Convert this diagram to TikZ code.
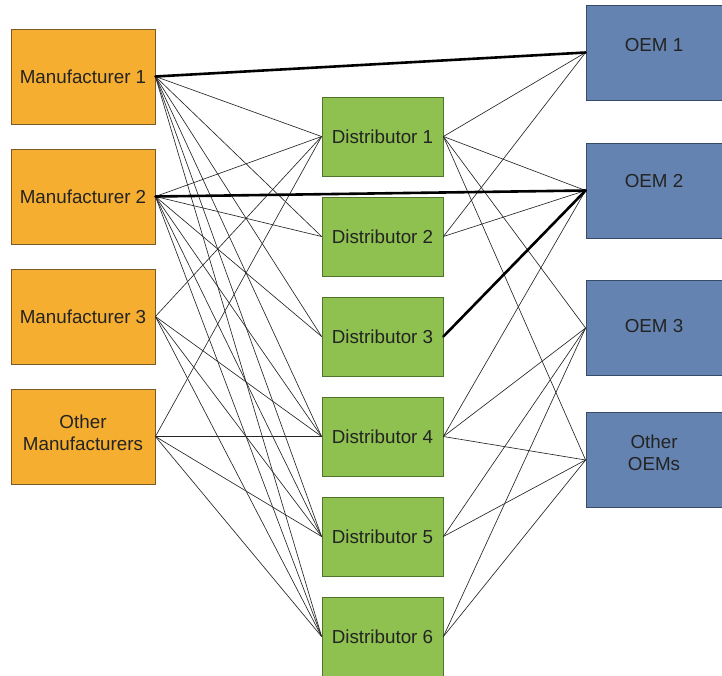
\documentclass[tikz,border=0pt]{standalone}
\usepackage{fontspec}
\setmainfont{Liberation Sans}
\definecolor{mfill}{RGB}{246,174,48}
\definecolor{mline}{RGB}{120,90,40}
\definecolor{dfill}{RGB}{142,193,80}
\definecolor{dline}{RGB}{80,115,45}
\definecolor{ofill}{RGB}{100,131,177}
\definecolor{oline}{RGB}{55,75,105}
\definecolor{txt}{RGB}{35,35,35}
\begin{document}
\begin{tikzpicture}[x=1pt,y=-1pt,
  box/.style={line width=0.8pt, inner sep=0pt, align=center, text=txt,
    font=\fontsize{18.8}{21.5}\selectfont},
  manu/.style={box, draw=mline, fill=mfill, minimum width=144pt, minimum height=95pt},
  dist/.style={box, draw=dline, fill=dfill, minimum width=121pt, minimum height=79pt},
  oem/.style={box, draw=oline, fill=ofill, minimum width=136pt, minimum height=95pt},
  boxtext/.style={inner sep=0pt, align=center, text=txt,
    font=\fontsize{18.8}{21.5}\selectfont},
  link/.style={draw=black!85, line width=0.65pt},
  mainlink/.style={draw=black, line width=2.6pt, line cap=round}
]
\useasboundingbox (0,0) rectangle (722,675);

% manufacturers
\node[manu] (m1) at (83,76.5) {Manufacturer 1};
\node[manu] (m2) at (83,196.5) {Manufacturer 2};
\node[manu] (m3) at (83,316.5) {Manufacturer 3};
\node[manu] (m4) at (83,436.5) {};
\node[boxtext] (m4t) at (83,433) {Other\\Manufacturers};

% distributors
\node[dist] (d1) at (382.5,136.5) {Distributor 1};
\node[dist] (d2) at (382.5,236.5) {Distributor 2};
\node[dist] (d3) at (382.5,336.5) {Distributor 3};
\node[dist] (d4) at (382.5,436.5) {Distributor 4};
\node[dist] (d5) at (382.5,536.5) {Distributor 5};
\node[dist] (d6) at (382.5,636.5) {Distributor 6};

% OEMs
\node[oem] (o1) at (654,52.5) {};
\node[oem] (o2) at (654,190.5) {};
\node[oem] (o3) at (654,328) {};
\node[oem] (o4) at (654,460) {};
\node[boxtext] (o1t) at (654,45.5) {OEM 1};
\node[boxtext] (o2t) at (654,181.5) {OEM 2};
\node[boxtext] (o3t) at (654,326) {OEM 3};
\node[boxtext] (o4t) at (654,453) {Other\\OEMs};

% manufacturer -> distributor
\foreach \d in {d1,d2,d3,d4,d5,d6} \draw[link] (m1.east) -- (\d.west);
\foreach \d in {d1,d2,d3,d4,d5,d6} \draw[link] (m2.east) -- (\d.west);
\foreach \d in {d1,d4,d5,d6} \draw[link] (m3.east) -- (\d.west);
\foreach \d in {d1,d4,d5,d6} \draw[link] (m4.east) -- (\d.west);

% distributor -> OEM
\foreach \o in {o1,o2,o3,o4} \draw[link] (d1.east) -- (\o.west);
\foreach \o in {o1,o2} \draw[link] (d2.east) -- (\o.west);
\foreach \o in {o2,o3,o4} \draw[link] (d4.east) -- (\o.west);
\foreach \o in {o3,o4} \draw[link] (d5.east) -- (\o.west);
\foreach \o in {o3,o4} \draw[link] (d6.east) -- (\o.west);

% direct supply routes
\draw[mainlink] (m1.east) -- (o1.west);
\draw[mainlink] (m2.east) -- (o2.west);
\draw[mainlink] (d3.east) -- (o2.west);
\end{tikzpicture}
\end{document}
